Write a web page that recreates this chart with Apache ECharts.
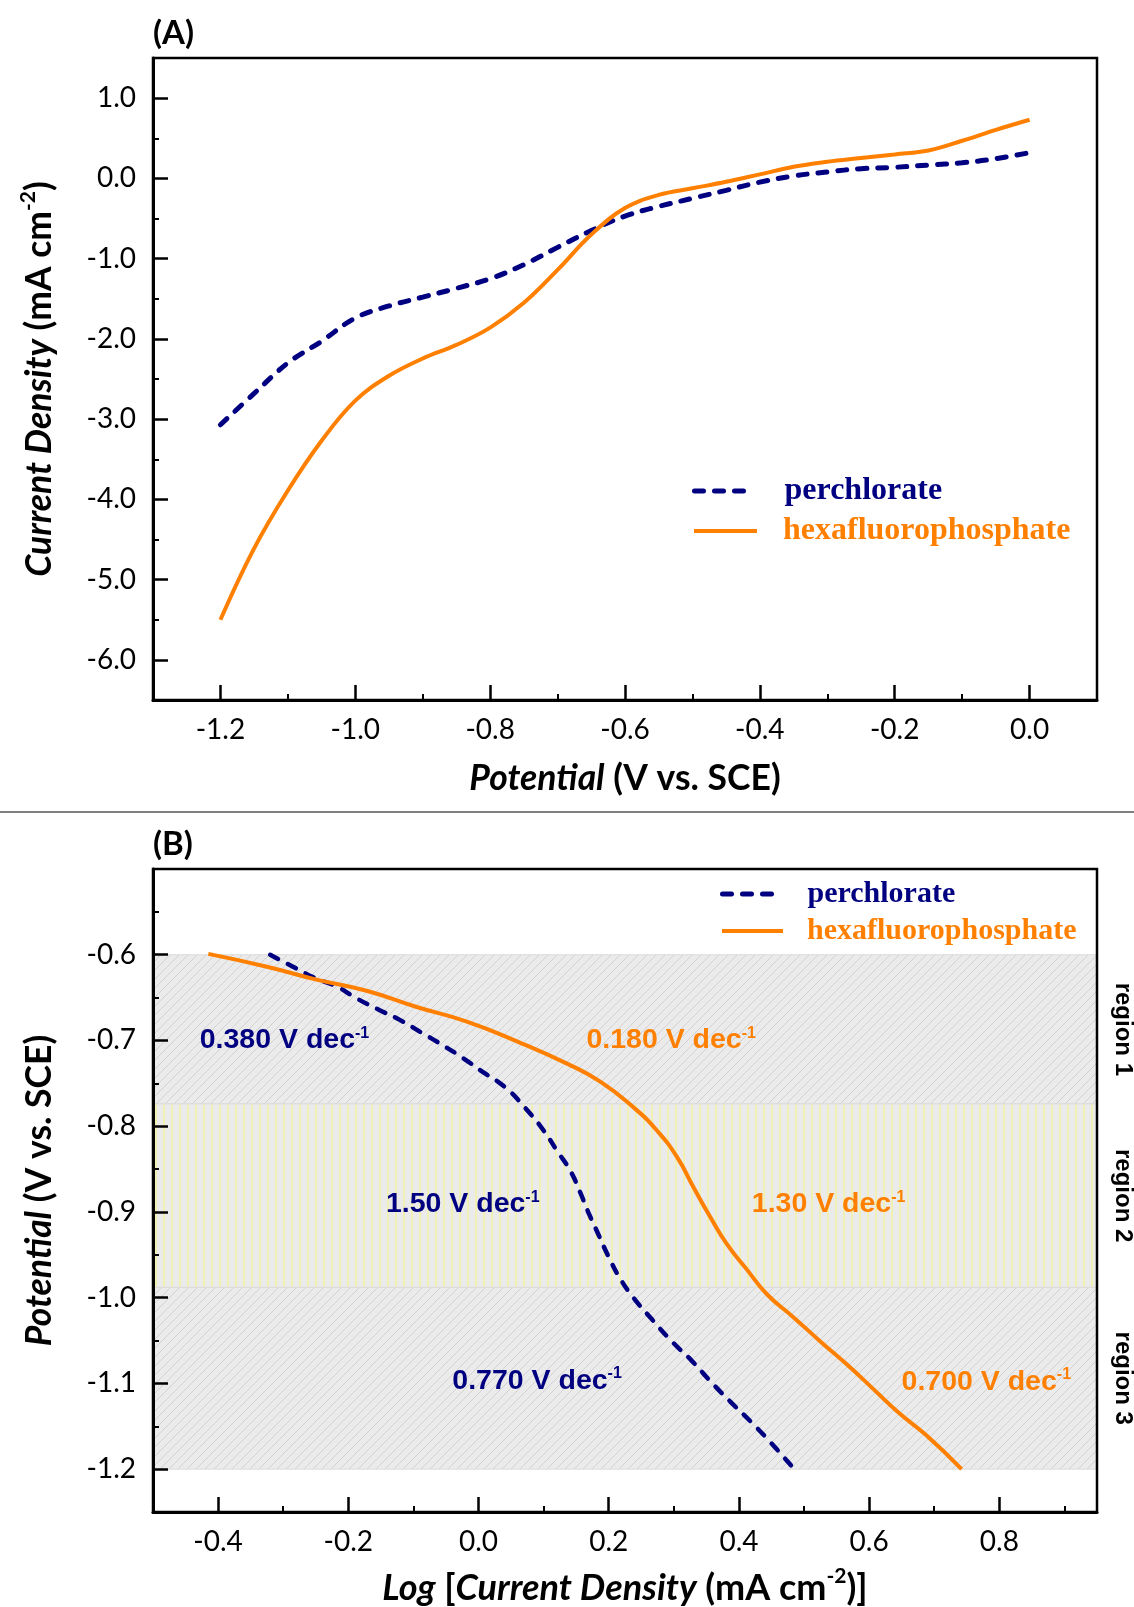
<!DOCTYPE html>
<html>
<head>
<meta charset="utf-8">
<script src="https://cdn.jsdelivr.net/npm/echarts@6/dist/echarts.min.js"></script>
<style>
  html, body { margin: 0; padding: 0; background: #fff; }
  #chart { width: 1134px; height: 1607px; }
</style>
</head>
<body>
<div id="chart"></div>
<script>
const NAVY = '#000080';
const ORANGE = '#ff8000';

// (A) current density (mA cm-2) against potential (V vs. SCE)
const potentialA = [-1.20, -1.15, -1.10, -1.05, -1.00, -0.95, -0.90, -0.85, -0.80, -0.75, -0.70, -0.65, -0.60,
  -0.55, -0.50, -0.45, -0.40, -0.35, -0.30, -0.25, -0.20, -0.15, -0.10, -0.05, 0.00];
const perchlorateA = [-3.07, -2.68, -2.30, -2.03, -1.74, -1.59, -1.48, -1.37, -1.25, -1.075, -0.86, -0.65, -0.47,
  -0.35, -0.249, -0.149, -0.047, 0.03, 0.08, 0.121, 0.138, 0.166, 0.194, 0.246, 0.32];
const hexafluoroA = [-5.50, -4.61, -3.89, -3.27, -2.77, -2.46, -2.245, -2.075, -1.86, -1.55, -1.14, -0.70, -0.37,
  -0.206, -0.124, -0.043, 0.05, 0.145, 0.207, 0.253, 0.298, 0.347, 0.469, 0.604, 0.73];

// (B) Tafel plot: [log current density, potential]
const perchlorateB = [[-0.320, -0.600], [-0.285, -0.614], [-0.249, -0.628], [-0.218, -0.637], [-0.187, -0.651],
  [-0.151, -0.665], [-0.121, -0.676], [-0.085, -0.692], [-0.054, -0.706], [-0.023, -0.721], [0.007, -0.737],
  [0.040, -0.754], [0.072, -0.779], [0.100, -0.805], [0.120, -0.828], [0.141, -0.852], [0.156, -0.877],
  [0.169, -0.901], [0.184, -0.926], [0.199, -0.951], [0.217, -0.977], [0.238, -1.000], [0.266, -1.025],
  [0.297, -1.051], [0.328, -1.074], [0.358, -1.099], [0.389, -1.123], [0.420, -1.146], [0.450, -1.170],
  [0.485, -1.200]];
const hexafluoroB = [[-0.415, -0.599], [-0.325, -0.614], [-0.249, -0.629], [-0.172, -0.642], [-0.095, -0.661],
  [-0.018, -0.678], [0.059, -0.701], [0.136, -0.727], [0.187, -0.748], [0.238, -0.778], [0.274, -0.805],
  [0.305, -0.836], [0.330, -0.871], [0.356, -0.906], [0.381, -0.937], [0.412, -0.967], [0.443, -0.996],
  [0.484, -1.023], [0.525, -1.051], [0.566, -1.078], [0.607, -1.107], [0.645, -1.134], [0.687, -1.160],
  [0.742, -1.200]];

// shaded potential regions in (B)
const regionNames = ['region 1', 'region 2', 'region 3'];
const regionTop = [-0.6, -0.774, -0.988];
const regionBottom = [-0.774, -0.988, -1.2];

// Tafel slope annotations in (B)
const slopeText = ['0.380', '1.50', '0.770', '0.180', '1.30', '0.700'];
const slopeX = [-0.429, -0.143, -0.041, 0.165, 0.419, 0.649];
const slopeY = [-0.700, -0.891, -1.097, -0.700, -0.891, -1.098];
const slopeColor = [NAVY, NAVY, NAVY, ORANGE, ORANGE, ORANGE];

// tick values
const ticksAx = [-1.2, -1.0, -0.8, -0.6, -0.4, -0.2, 0.0];
const minorAx = [-1.1, -0.9, -0.7, -0.5, -0.3, -0.1];
const ticksAy = [1.0, 0.0, -1.0, -2.0, -3.0, -4.0, -5.0, -6.0];
const minorAy = [0.5, -0.5, -1.5, -2.5, -3.5, -4.5, -5.5];
const ticksBx = [-0.4, -0.2, 0.0, 0.2, 0.4, 0.6, 0.8];
const minorBx = [-0.3, -0.1, 0.1, 0.3, 0.5, 0.7, 0.9];
const ticksBy = [-0.6, -0.7, -0.8, -0.9, -1.0, -1.1, -1.2];
const minorBy = [-0.55, -0.65, -0.75, -0.85, -0.95, -1.05, -1.15];

// fill patterns for the regions
function pattern(kind) {
  const c = document.createElement('canvas');
  const s = kind === 'diag' ? 9 : 8;
  c.width = s; c.height = s;
  const g = c.getContext('2d');
  g.fillStyle = '#ebebeb';
  g.fillRect(0, 0, s, s);
  g.beginPath();
  if (kind === 'diag') {
    g.strokeStyle = '#d2d2d2';
    g.lineWidth = 1;
    g.moveTo(-1, s + 1); g.lineTo(s + 1, -1);
    g.moveTo(-2, 2); g.lineTo(2, -2);
    g.moveTo(s - 2, s + 2); g.lineTo(s + 2, s - 2);
  } else {
    g.strokeStyle = '#f6f67c';
    g.lineWidth = 1;
    g.moveTo(s / 2, 0); g.lineTo(s / 2, s);
  }
  g.stroke();
  return c;
}
const grayFill = { image: pattern('diag'), repeat: 'repeat' };
const yellowFill = { image: pattern('vert'), repeat: 'repeat' };

function nameRich(size) {
  return {
    bi: { fontFamily: 'Lato', fontWeight: 'bold', fontStyle: 'italic', fontSize: size, lineHeight: 44, color: '#000' },
    b: { fontFamily: 'Lato', fontWeight: 'bold', fontSize: size, lineHeight: 44, color: '#000' },
    sup: { fontFamily: 'Lato', fontWeight: 'bold', fontSize: 21, lineHeight: 12, verticalAlign: 'top', color: '#000' }
  };
}

const fmt = (v) => (Math.abs(v) < 1e-9 ? 0 : v).toFixed(1);

function mainAxis(grid, pos, min, max, ticks, name, nameGap, margin, nameSize) {
  return {
    type: 'value', gridIndex: grid, position: pos, min: min, max: max, z: 10,
    axisLine: { show: true, onZero: false, lineStyle: { color: '#000', width: 3 } },
    axisTick: { show: true, inside: true, length: 15, customValues: ticks, lineStyle: { color: '#000', width: 2.5 } },
    axisLabel: { customValues: ticks, formatter: fmt, fontFamily: 'Lato', fontSize: 28, color: '#000', margin: margin },
    splitLine: { show: false },
    name: name, nameLocation: 'middle', nameGap: nameGap,
    nameTextStyle: { rich: nameRich(nameSize) }
  };
}
function minorAxis(grid, pos, min, max, ticks) {
  return {
    type: 'value', gridIndex: grid, position: pos, min: min, max: max, z: 10,
    axisLine: { show: false, onZero: false },
    axisTick: { show: true, inside: true, length: 6, customValues: ticks, lineStyle: { color: '#000', width: 2 } },
    axisLabel: { show: false },
    splitLine: { show: false }
  };
}

function legendItem(name, color, top, left, width, line, pad, size) {
  return {
    data: [{ name: name, textStyle: { color: color } }],
    left: left, top: top, orient: 'vertical', selectedMode: false, padding: 0,
    itemWidth: width, itemHeight: 2,
    lineStyle: line,
    textStyle: { fontFamily: 'Liberation Serif', fontWeight: 'bold', fontSize: size, lineHeight: 32, padding: [0, 0, 0, pad] }
  };
}
const dashLine = { width: 5, type: [9, 11], cap: 'round', color: NAVY };
const solidLine = { width: 4, type: 'solid', color: ORANGE };

const slopeMarks = slopeText.map((t, i) => ({
  coord: [slopeX[i], slopeY[i]],
  label: {
    formatter: '{v|' + t + ' V dec}{s|-1}',
    rich: {
      v: { fontFamily: 'Liberation Sans', fontWeight: 'bold', fontSize: 28.5, lineHeight: 30, color: slopeColor[i] },
      s: { fontFamily: 'Liberation Sans', fontWeight: 'bold', fontSize: 16, lineHeight: 10, verticalAlign: 'top', color: slopeColor[i] }
    }
  }
}));

const panelRich = {
  p: { fontFamily: 'Lato', fontSize: 33, lineHeight: 40, color: '#000' },
  b: { fontFamily: 'Lato', fontWeight: 'bold', fontSize: 33, lineHeight: 40, color: '#000' }
};

const option = {
  animation: false,
  backgroundColor: '#fff',
  title: [
    { text: '{p|(}{b|A}{p|)}', left: 153, top: 13, padding: 0, textStyle: { rich: panelRich } },
    { text: '{p|(}{b|B}{p|)}', left: 153, top: 824, padding: 0, textStyle: { rich: panelRich } }
  ],
  graphic: [
    { type: 'line', shape: { x1: 0, y1: 812, x2: 1134, y2: 812 }, style: { stroke: '#555', lineWidth: 1.5 } }
  ],
  legend: [
    legendItem('perchlorate', NAVY, 475, 692, 52, dashLine, 33, 32),
    legendItem('hexafluorophosphate', ORANGE, 515, 692, 63, solidLine, 21, 32),
    legendItem('perchlorate', NAVY, 878, 720, 52, dashLine, 28, 30),
    legendItem('hexafluorophosphate', ORANGE, 915, 720, 61, solidLine, 19, 30)
  ],
  grid: [
    { left: 153, top: 58, right: 37, height: 642, show: true, borderColor: '#000', borderWidth: 2.5, z: 10 },
    { left: 153, top: 869, right: 37, height: 643, show: true, borderColor: '#000', borderWidth: 2.5, z: 10 }
  ],
  xAxis: [
    mainAxis(0, 'bottom', -1.3, 0.1, ticksAx, '{bi|Potential}{b| (V vs. SCE)}', 57, 16, 35.5),
    minorAxis(0, 'bottom', -1.3, 0.1, minorAx),
    mainAxis(1, 'bottom', -0.5, 0.95, ticksBx, '{bi|Log}{b| [}{bi|Current Density}{b| (mA cm}{sup|-2}{b|)]}', 54, 16, 36),
    minorAxis(1, 'bottom', -0.5, 0.95, minorBx)
  ],
  yAxis: [
    mainAxis(0, 'left', -6.5, 1.5, ticksAy, '{bi|Current Density}{b| (mA cm}{sup|-2}{b|)}', 91, 17, 35.5),
    minorAxis(0, 'left', -6.5, 1.5, minorAy),
    mainAxis(1, 'left', -1.25, -0.5, ticksBy, '{bi|Potential}{b| (V vs. SCE)}', 91, 17, 35.5),
    minorAxis(1, 'left', -1.25, -0.5, minorBy)
  ],
  series: [
    {
      name: 'perchlorate', type: 'line', xAxisIndex: 0, yAxisIndex: 0, z: 3,
      data: potentialA.map((x, i) => [x, perchlorateA[i]]),
      smooth: 0.4, symbol: 'none', itemStyle: { color: NAVY },
      lineStyle: { color: NAVY, width: 5, type: [9, 11], cap: 'round' }
    },
    {
      name: 'hexafluorophosphate', type: 'line', xAxisIndex: 0, yAxisIndex: 0, z: 3,
      data: potentialA.map((x, i) => [x, hexafluoroA[i]]),
      smooth: 0.4, symbol: 'none', itemStyle: { color: ORANGE },
      lineStyle: { color: ORANGE, width: 4 }
    },
    {
      name: 'regions', type: 'line', xAxisIndex: 2, yAxisIndex: 2, z: 1, data: [],
      markArea: {
        silent: true,
        label: {
          show: true, position: 'right', distance: 25, rotate: -90, align: 'center', verticalAlign: 'middle',
          fontFamily: 'Liberation Sans', fontWeight: 'bold', fontSize: 24, color: '#000'
        },
        data: regionNames.map((n, i) => [
          { name: n, yAxis: regionTop[i], itemStyle: { color: i === 1 ? yellowFill : grayFill, borderColor: '#dcdcdc', borderWidth: 1 } },
          { yAxis: regionBottom[i] }
        ])
      },
      markPoint: {
        silent: true, symbol: 'circle', symbolSize: 1,
        itemStyle: { color: 'rgba(0,0,0,0)' },
        label: { show: true, position: 'right', distance: 0 },
        data: slopeMarks
      }
    },
    {
      name: 'perchlorate', type: 'line', xAxisIndex: 2, yAxisIndex: 2, z: 3,
      data: perchlorateB,
      smooth: 0.5, symbol: 'none', itemStyle: { color: NAVY },
      lineStyle: { color: NAVY, width: 4.5, type: [9, 11], cap: 'round' }
    },
    {
      name: 'hexafluorophosphate', type: 'line', xAxisIndex: 2, yAxisIndex: 2, z: 3,
      data: hexafluoroB,
      smooth: 0.5, symbol: 'none', itemStyle: { color: ORANGE },
      lineStyle: { color: ORANGE, width: 4 }
    }
  ]
};

const chart = echarts.init(document.getElementById('chart'), null, { renderer: 'canvas' });
chart.setOption(option);
</script>
</body>
</html>
